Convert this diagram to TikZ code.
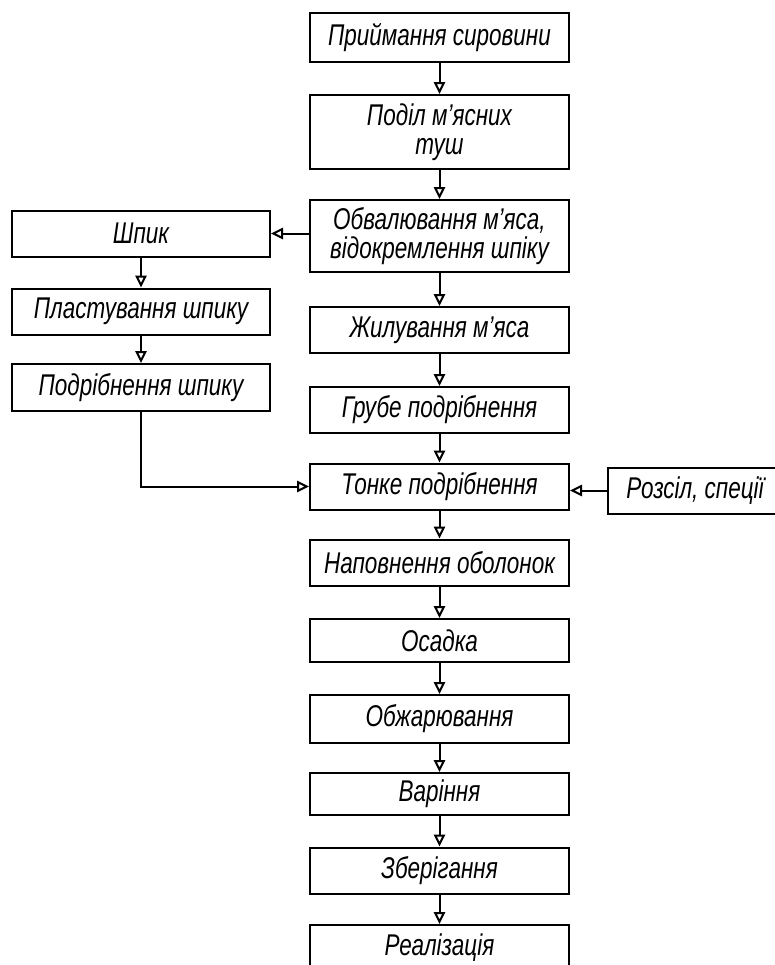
\documentclass[tikz,border=0pt]{standalone}
\usepackage{fontspec}
\setmainfont{Liberation Sans}[FakeStretch=0.75]
\usepackage{tikz}
\usetikzlibrary{arrows.meta,positioning}
\tikzset{
  stepbox/.style={draw,line width=1.5pt,minimum width=194.25pt,minimum height=34.5pt,inner sep=2pt,align=center,font=\fontsize{22.5}{22}\selectfont\itshape},
  sidebox/.style={stepbox,minimum width=193.5pt},
  arrow/.style={-{Triangle[open,length=9pt,width=8.5pt]},line width=1.5pt},
}

\begin{document}
\begin{tikzpicture}[x=0.75pt,y=-0.75pt]
    \useasboundingbox (0,0) rectangle (775,965);
    \clip (0,0) rectangle (775,965);
    % main line
    \node[stepbox,minimum height=36.75pt] (pryim) at (439.5,37.5) {Приймання сировини};
    \node[stepbox,minimum height=55.5pt] (podil) at (439.5,132) {Поділ м'ясних\\туш};
    \node[stepbox,minimum height=54pt] (obval) at (439.5,236) {Обвалювання м'яса,\\відокремлення шпіку};
    \node[stepbox] (zhyl) at (439.5,330) {Жилування м'яса};
    \node[stepbox] (grube) at (439.5,410) {Грубе подрібнення};
    \node[stepbox] (tonke) at (439.5,486.5) {Тонке подрібнення};
    \node[stepbox] (napov) at (439.5,562.5) {Наповнення оболонок};
    \node[stepbox,minimum height=32.25pt] (osadka) at (439.5,640.5) {Осадка};
    \node[stepbox,minimum height=36pt] (obzh) at (439.5,719) {Обжарювання};
    \node[stepbox,minimum height=31.5pt] (varin) at (439.5,794) {Варіння};
    \node[stepbox] (zber) at (439.5,870.5) {Зберігання};
    \node[stepbox] (real) at (439.5,948) {Реалізація};
    \foreach \a/\b in {pryim/podil,podil/obval,obval/zhyl,zhyl/grube,grube/tonke,tonke/napov,napov/osadka,osadka/obzh,obzh/varin,varin/zber,zber/real}
      \draw[arrow] (\a) -- (\b);
    % fat branch
    \node[sidebox] (shpik) at (141,233.5) {Шпик};
    \node[sidebox] (plast) at (141,311.5) {Пластування шпику};
    \node[sidebox,minimum height=35.25pt] (podr) at (141,387.5) {Подрібнення шпику};
    \draw[arrow] (obval.west |- shpik) -- (shpik);
    \draw[arrow] (shpik) -- (plast);
    \draw[arrow] (plast) -- (podr);
    \draw[arrow] (podr) |- (tonke);
    % brine
    \node[stepbox,minimum width=130.5pt] (rozsil) at (695,490.5) {Розсіл, спеції};
    \draw[arrow] (rozsil.west) -- (rozsil.west -| tonke.east);
\end{tikzpicture}
\end{document}
